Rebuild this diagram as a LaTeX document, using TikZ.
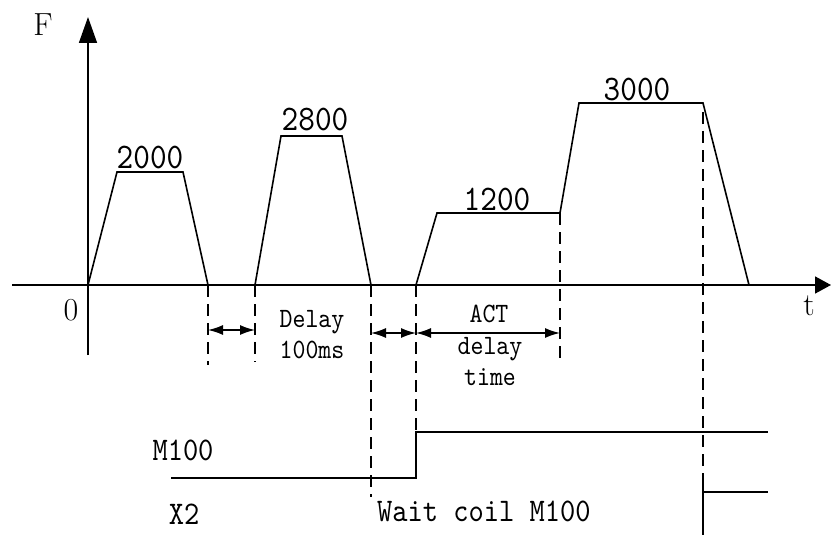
\documentclass[tikz,border=0pt]{standalone}
\usepackage{fontspec}
\newfontfamily\cnfont[FakeStretch=0.88]{lmmono10-regular.otf}
\usetikzlibrary{arrows.meta}
\tikzset{
  axisline/.style={line width=1.6pt,-{Triangle[length=26pt,width=18pt]}},
  curve/.style={line width=1.6pt,line join=miter},
  guide/.style={line width=1.6pt,dash pattern=on 12pt off 7pt},
  dim/.style={line width=1.5pt,{Latex[length=15pt,width=10pt]}-{Latex[length=15pt,width=10pt]}},
  biglabel/.style={inner sep=0pt,anchor=base,font=\cnfont\fontsize{36}{36}\selectfont},
  midlabel/.style={inner sep=0pt,anchor=base,font=\cnfont\fontsize{33}{33}\selectfont},
  smalllabel/.style={inner sep=0pt,anchor=base,font=\cnfont\fontsize{28}{28}\selectfont},
  axislabel/.style={inner sep=0pt,anchor=base,font=\fontsize{32}{32}\selectfont}
}
\begin{document}
\begin{tikzpicture}[x=1pt,y=-1pt]
\useasboundingbox (0,0) rectangle (831,535);
% axes
\coordinate (ybot) at (88,355);
\coordinate (ytop) at (88,17);
\coordinate (xl) at (12,285);
\coordinate (xr) at (831,285);
\draw[axisline] (ybot) -- (ytop);
\draw[axisline,-{Triangle[length=16pt,width=17pt]}] (xl) -- (xr);
\node[axislabel] (F) at (43,36) {F};
\node[axislabel] (zero) at (71,320) {0};
\node[axislabel] (t) at (809,315) {t};
% profile
\draw[curve] (88,285) -- (117,172) -- (183,172) -- (208,285);
\draw[curve] (255,285) -- (281,136) -- (342,136) -- (371,285);
\draw[curve] (416,285) -- (437,213) -- (560,213) -- (579,103) -- (703,103) -- (749,285);
\node[biglabel] (v1) at (150,168) {2000};
\node[biglabel] (v2) at (315,131) {2800};
\node[biglabel] (v3) at (497,210) {1200};
\node[biglabel] (v4) at (637,100) {3000};
% guides
\coordinate (g1a) at (208,285); \coordinate (g1b) at (208,365);
\coordinate (g2a) at (255,285); \coordinate (g2b) at (255,362);
\coordinate (g3a) at (371,285); \coordinate (g3b) at (371,497);
\coordinate (g4a) at (416,285); \coordinate (g4b) at (416,432);
\coordinate (g5a) at (560,213); \coordinate (g5b) at (560,365);
\coordinate (g6a) at (703,112); \coordinate (g6b) at (703,478);
\foreach \i in {1,...,6} {\draw[guide] (g\i a) -- (g\i b);}
% dimension arrows
\coordinate (d1a) at (208,330); \coordinate (d1b) at (255,330);
\coordinate (d2a) at (371,333); \coordinate (d2b) at (416,333);
\coordinate (d3b) at (560,333);
\draw[dim] (d1a) -- (d1b);
\draw[dim] (d2a) -- (d2b);
\draw[dim] (d2b) -- (d3b);
\node[smalllabel] (delay1) at (312,327) {Delay};
\node[smalllabel] (delay2) at (312,358) {100ms};
\node[smalllabel] (act1) at (489,322) {ACT};
\node[smalllabel] (act2) at (490,354) {delay};
\node[smalllabel] (act3) at (490,385) {time};
% signals
\draw[curve] (171,478) -- (416,478) -- (416,432) -- (768,432);
\draw[curve] (703,478) -- (703,535);
\draw[curve] (703,492) -- (768,492);
\node[midlabel] (m100) at (183,460) {M100};
\node[midlabel] (x2) at (184,524) {X2};
\node[midlabel,anchor=base west] (wait) at (377,521) {Wait coil M100};
\end{tikzpicture}
\end{document}
